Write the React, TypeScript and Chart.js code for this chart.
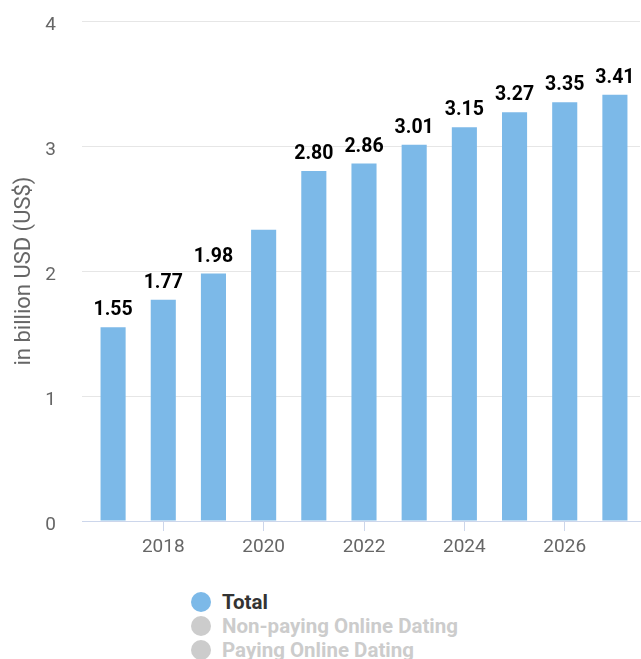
import React, { useEffect, useRef } from "react";
import { Chart, registerables } from "chart.js";

Chart.register(...registerables);

const years = ["2017", "2018", "2019", "2020", "2021", "2022", "2023", "2024", "2025", "2026", "2027"];
const totalValues = [1.55, 1.77, 1.98, 2.33, 2.8, 2.86, 3.01, 3.15, 3.27, 3.35, 3.41];
const labelHiddenYears = ["2020"];
const shownTickYears = ["2018", "2020", "2022", "2024", "2026"];
const yTicks = [0, 1, 2, 3, 4];
const seriesNames = ["Total", "Non-paying Online Dating", "Paying Online Dating"];
const seriesVisible = [true, false, false];

const BAR = "#7cb9e8";
const AXIS = "#ccd6eb";
const FONT = "Roboto, 'Noto Sans', sans-serif";

const dataLabelPlugin = {
  id: "dataLabels",
  afterDatasetsDraw(chart: any) {
    const ctx = chart.ctx;
    const meta = chart.getDatasetMeta(0);
    ctx.save();
    ctx.font = `bold 19.5px ${FONT}`;
    ctx.fillStyle = "#000";
    ctx.textAlign = "center";
    ctx.textBaseline = "alphabetic";
    meta.data.forEach((bar: any, i: number) => {
      if (labelHiddenYears.includes(years[i])) return;
      ctx.fillText(totalValues[i].toFixed(2), bar.x, bar.y - 12);
    });
    ctx.restore();
  },
};

export default function App() {
  const ref = useRef<HTMLCanvasElement>(null);
  useEffect(() => {
    const chart = new Chart(ref.current!, {
      type: "bar",
      data: {
        labels: years,
        datasets: [
          {
            label: seriesNames[0],
            data: totalValues,
            backgroundColor: BAR,
            barPercentage: 0.5,
            categoryPercentage: 1,
          },
        ],
      },
      options: {
        responsive: false,
        animation: false,
        layout: { padding: { top: 21, right: 1, left: 0, bottom: 0 } },
        plugins: { legend: { display: false }, tooltip: { enabled: false } },
        scales: {
          x: {
            offset: true,
            border: { display: true, color: AXIS, width: 1 },
            grid: {
              offset: false,
              drawOnChartArea: false,
              drawTicks: true,
              tickLength: 10,
              color: (c: any) => (shownTickYears.includes(years[c.index]) ? AXIS : "rgba(0,0,0,0)"),
            },
            ticks: {
              autoSkip: false,
              maxRotation: 0,
              padding: 5,
              color: "#666",
              font: { family: FONT, size: 19 },
              callback: (_v: any, i: number) => (shownTickYears.includes(years[i]) ? years[i] : ""),
            },
            afterFit: (s: any) => {
              s.height = 54;
            },
          },
          y: {
            min: 0,
            max: 4,
            border: { display: false },
            afterBuildTicks: (s: any) => {
              s.ticks = yTicks.map((v) => ({ value: v }));
            },
            grid: {
              drawTicks: true,
              tickLength: 6,
              color: (c: any) => (c.tick && c.tick.value === 0 ? AXIS : "#e6e6e6"),
            },
            ticks: {
              padding: 26,
              labelOffset: 4,
              color: "#666",
              font: { family: FONT, size: 19 },
            },
            title: {
              display: true,
              text: "in billion USD (US$)",
              color: "#666",
              padding: { top: 11, bottom: 0 },
              font: { family: FONT, size: 22 },
            },
            afterFit: (s: any) => {
              s.width = 88;
              s.paddingTop = 0;
              s.paddingBottom = 0;
            },
          },
        },
      },
      plugins: [dataLabelPlugin],
    });
    return () => chart.destroy();
  }, []);

  return (
    <div style={{ position: "absolute", left: 0, top: 0, width: 641, height: 659, background: "#fff", overflow: "hidden" }}>
      <canvas ref={ref} width={641} height={575} style={{ display: "block" }} />
      <div style={{ position: "absolute", left: 191, top: 590, fontFamily: FONT, fontWeight: "bold", fontSize: 20.5 }}>
        {seriesNames.map((n, i) => (
          <div key={n} style={{ display: "flex", alignItems: "center", height: 24, lineHeight: "24px" }}>
            <span
              style={{
                display: "inline-block",
                width: 20,
                height: 20,
                borderRadius: 10,
                background: seriesVisible[i] ? BAR : "#cccccc",
                marginRight: 11,
                flex: "none",
              }}
            />
            <span style={{ color: seriesVisible[i] ? "#333" : "#cccccc", whiteSpace: "nowrap" }}>{n}</span>
          </div>
        ))}
      </div>
    </div>
  );
}
